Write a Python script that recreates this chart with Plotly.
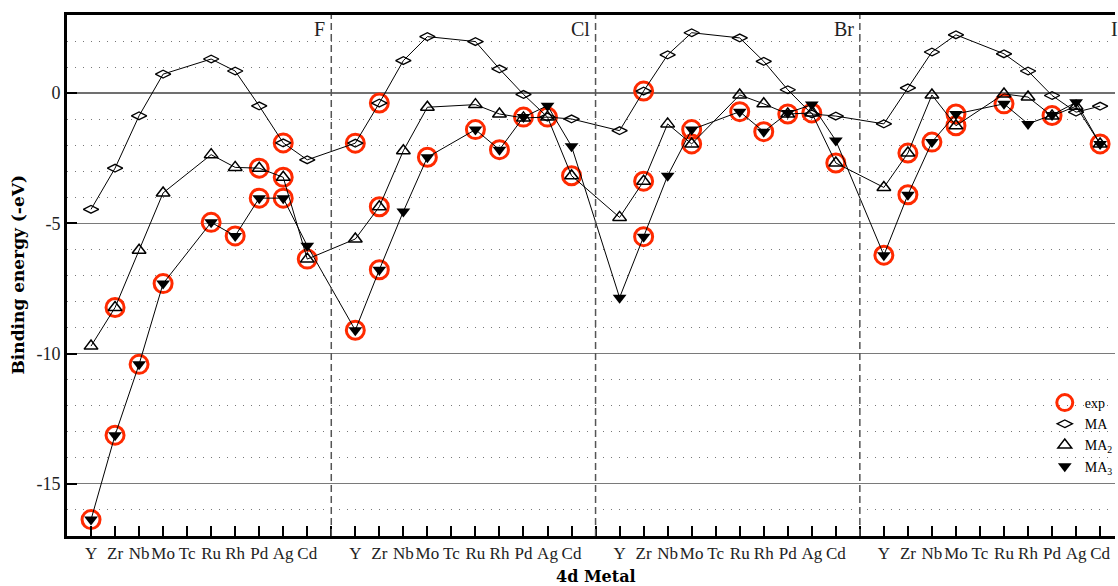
import plotly.graph_objects as go

# 4d transition metals and the halogen partners
metals = ["Y", "Zr", "Nb", "Mo", "Tc", "Ru", "Rh", "Pd", "Ag", "Cd"]
halides = ["F", "Cl", "Br", "I"]

# Computed binding energies (-eV), one block of 10 metals per halide (F, Cl, Br, I)
ma = [
    -4.46, -2.88, -0.87, 0.73, None, 1.31, 0.85, -0.49, -1.91, -2.56,
    -1.92, -0.38, 1.25, 2.17, None, 1.98, 0.93, -0.05, -0.92, -0.99,
    -1.44, 0.08, 1.47, 2.32, None, 2.12, 1.22, 0.13, -0.80, -0.88,
    -1.18, 0.20, 1.58, 2.24, None, 1.51, 0.85, -0.09, -0.73, -0.50,
]
ma2 = [
    -9.71, -8.23, -6.03, -3.83, None, -2.36, -2.85, -2.88, -3.23, -6.37,
    -5.60, -4.36, -2.21, -0.54, None, -0.44, -0.80, -0.95, -0.92, -3.17,
    -4.77, -3.38, -1.18, -1.95, None, -0.07, -0.41, -0.80, -0.76, -2.68,
    -3.62, -2.30, -0.07, -1.25, None, -0.03, -0.15, -0.88, -0.50, -1.95,
]
ma3 = [
    -16.37, -13.13, -10.41, -7.31, None, -4.96, -5.48, -4.03, -4.03, -5.86,
    -9.10, -6.78, -4.54, -2.46, None, -1.40, -2.17, -0.92, -0.48, -2.04,
    -7.85, -5.51, -3.17, -1.40, None, -0.71, -1.48, -0.76, -0.44, -1.82,
    -6.22, -3.90, -1.88, -0.80, None, -0.41, -1.18, -0.84, -0.35, -1.95,
]

# Experimental values for MA, MA2 and MA3 (None = not measured)
N = None
exp_ma = [
    N, N, N, N, N, N, N, N, -1.91, N,
    -1.92, -0.38, N, N, N, N, N, N, N, N,
    N, 0.08, N, N, N, N, N, N, N, N,
    N, N, N, N, N, N, N, N, N, N,
]
exp_ma2 = [
    N, -8.23, N, N, N, N, N, -2.88, -3.23, -6.37,
    N, -4.36, N, N, N, N, N, N, -0.92, -3.17,
    N, -3.38, N, -1.95, N, N, N, -0.80, -0.76, -2.68,
    N, -2.30, N, -1.25, N, N, N, N, N, -1.95,
]
exp_ma3 = [
    -16.37, -13.13, -10.41, -7.31, N, -4.96, -5.48, -4.03, -4.03, N,
    -9.10, -6.78, N, -2.46, N, -1.40, -2.17, -0.92, N, N,
    N, -5.51, N, -1.40, N, -0.71, -1.48, N, N, N,
    -6.22, -3.90, -1.88, -0.80, N, -0.41, N, -0.86, N, N,
]

# Each halide block takes 10 metal slots plus one separator slot
slot = len(metals) + 1
xs = [g * slot + i + 1 for g in range(len(halides)) for i in range(len(metals))]
x_max = 43.62

SERIF = "Liberation Serif"
BOLD = "DejaVu Serif"

exp_marker = dict(symbol="circle-open", size=18, color="#ff2a00",
                  line=dict(width=3, color="#ff2a00"))
ma_marker = dict(symbol="diamond-wide-open", size=11, color="black",
                 line=dict(width=1.3, color="black"))
ma2_marker = dict(symbol="triangle-up-open", size=12, color="black",
                  line=dict(width=1.5, color="black"))
ma3_marker = dict(symbol="triangle-down", size=12, color="black",
                  line=dict(width=0))
line_style = dict(color="black", width=1)

fig = go.Figure()

# experimental points as a single trace
ex_x, ex_y = [], []
for arr in (exp_ma, exp_ma2, exp_ma3):
    for x, v in zip(xs, arr):
        if v is not None:
            ex_x.append(x)
            ex_y.append(v)
fig.add_trace(go.Scatter(x=ex_x, y=ex_y, mode="markers", marker=exp_marker,
                         showlegend=False, hoverinfo="x+y"))

for vals, mk in ((ma, ma_marker), (ma2, ma2_marker), (ma3, ma3_marker)):
    fig.add_trace(go.Scatter(x=xs, y=vals, mode="lines+markers",
                             connectgaps=True, line=line_style, marker=mk,
                             showlegend=False))

# legend keys show the symbols only
for name, mk in (("exp", exp_marker), ("MA", ma_marker),
                 ("MA<sub>2</sub>", ma2_marker), ("MA<sub>3</sub>", ma3_marker)):
    fig.add_trace(go.Scatter(x=[None], y=[None], mode="markers", name=name,
                             marker=mk, showlegend=True))

# metal labels on the major ticks; separators get a minor tick
tickvals = xs
ticktext = [metals[i % len(metals)] for i in range(len(xs))]

# dashed separators between halide blocks and the halide labels
shapes = []
annotations = []
for g, h in enumerate(halides):
    sep = (g + 1) * slot
    shapes.append(dict(type="line", xref="x", yref="paper", x0=sep, x1=sep,
                       y0=0, y1=1, line=dict(color="#555555", width=1.5,
                                             dash="7px,4px")))
    annotations.append(dict(x=sep / x_max, y=1, xref="paper", yref="paper",
                            xanchor="right", yanchor="top", xshift=-4, yshift=-1,
                            text=h, showarrow=False,
                            font=dict(family=SERIF, size=20, color="#222")))

annotations.append(dict(x=0, y=0.5, xref="paper", yref="paper",
                        xanchor="right", xshift=-38,
                        textangle=-90, text="<b>Binding energy (-eV)</b>",
                        showarrow=False,
                        font=dict(family=BOLD, size=17, color="black")))
annotations.append(dict(x=slot * len(halides) / 2 / x_max, y=0, xref="paper",
                        yref="paper", yanchor="top", yshift=-29,
                        text="<b>4d Metal</b>", showarrow=False,
                        font=dict(family=BOLD, size=16, color="black")))

fig.update_layout(
    width=1118, height=586,
    margin=dict(l=67, r=0, t=15, b=50),
    plot_bgcolor="white", paper_bgcolor="white",
    shapes=shapes, annotations=annotations,
    legend=dict(x=0.933, y=0.286, xanchor="left", yanchor="top",
                bgcolor="rgba(0,0,0,0)", tracegroupgap=0,
                font=dict(family=SERIF, size=14, color="black")),
    font=dict(family=SERIF, color="black"),
)

fig.update_xaxes(
    range=[0, x_max], tickmode="array", tickvals=tickvals, ticktext=ticktext,
    tickangle=0,
    ticks="inside", ticklen=10, tickwidth=2, tickcolor="black",
    minor=dict(dtick=1, tick0=0, ticks="inside", ticklen=10, tickwidth=2,
               tickcolor="black", showgrid=False),
    showline=True, linewidth=3, linecolor="black", mirror=True,
    showgrid=False, zeroline=False,
    tickfont=dict(family=SERIF, size=17, color="#222"),
)
fig.update_yaxes(
    range=[-17, 3], tickmode="array", tickvals=[-15, -10, -5, 0],
    ticktext=["-15", "-10", "-5", "0"],
    ticks="inside", ticklen=10, tickwidth=2, tickcolor="black",
    showline=True, linewidth=3, linecolor="black",
    showgrid=True, gridcolor="#7a7a7a", gridwidth=1,
    zeroline=True, zerolinecolor="#707070", zerolinewidth=2,
    minor=dict(dtick=1, tick0=0, showgrid=True, gridcolor="#777777",
               gridwidth=1, griddash="1px,7px", ticks=""),
    tickfont=dict(family=SERIF, size=18, color="#222"),
)

fig.write_html("out.html")
